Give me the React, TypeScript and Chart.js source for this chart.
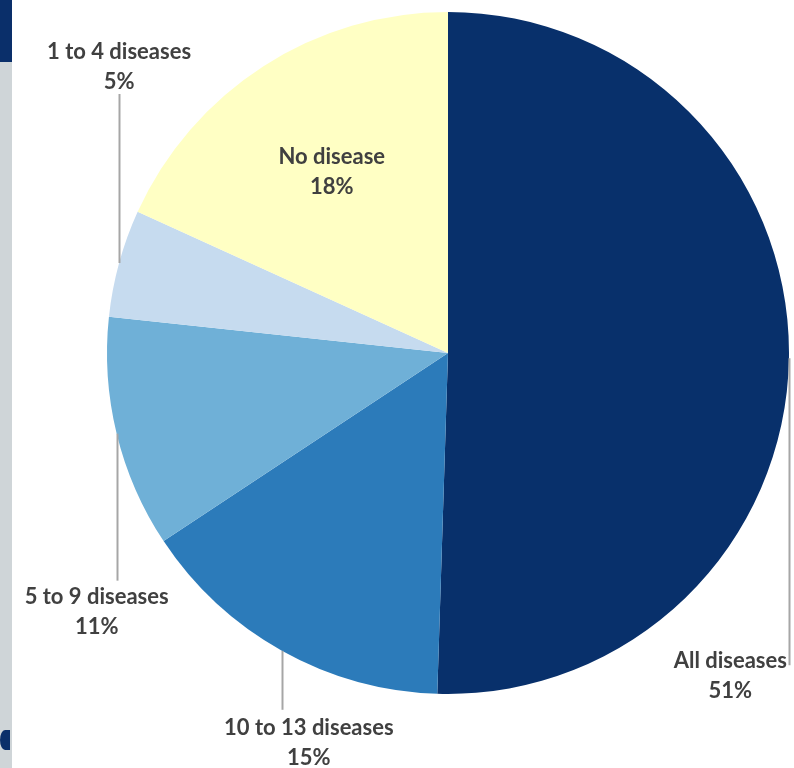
import React, { useEffect, useRef } from "react";
import { Chart, registerables } from "chart.js";

Chart.register(...registerables);

const categories = ["All diseases", "10 to 13 diseases", "5 to 9 diseases", "1 to 4 diseases", "No disease"];
const shares = [50.5, 15.2, 11.0, 5.1, 18.2];
const percentLabels = ["51%", "15%", "11%", "5%", "18%"];
const sliceColors = ["#08306b", "#2c7bba", "#6fb0d7", "#c6dbef", "#ffffc4"];

// label placement: leader length (px, +down / -up), text x shift, text y shift from leader end, inside fraction
type Placement = { leader: number; dx: number; dy: number; inside?: number; align?: "center" | "leftOfLine" };
const placements: Placement[] = [
  { leader: 307, dx: -2, dy: -4, align: "leftOfLine" },
  { leader: 59, dx: 27, dy: 18 },
  { leader: 147, dx: -20, dy: 16 },
  { leader: -169, dx: 0, dy: -42 },
  { leader: 0, dx: 0, dy: 0, inside: 0.63 },
];

const FONT = "bold 22px Lato, 'Open Sans', sans-serif";
const TEXT_COLOR = "#404040";
const LINE_H = 30;

const labelPlugin = {
  id: "pieLabels",
  afterDatasetsDraw(chart: any) {
    const ctx = chart.ctx as CanvasRenderingContext2D;
    const meta = chart.getDatasetMeta(0);
    ctx.save();
    ctx.font = FONT;
    ctx.fillStyle = TEXT_COLOR;
    ctx.textBaseline = "middle";
    meta.data.forEach((arc: any, i: number) => {
      const p = arc.getProps(["x", "y", "startAngle", "endAngle", "outerRadius"], true);
      const mid = (p.startAngle + p.endAngle) / 2;
      const pl = placements[i];
      const lines = [categories[i], percentLabels[i]];
      if (pl.inside) {
        const cx = p.x + Math.cos(mid) * p.outerRadius * pl.inside;
        const cy = p.y + Math.sin(mid) * p.outerRadius * pl.inside;
        ctx.textAlign = "center";
        ctx.fillText(lines[0], cx, cy - LINE_H / 2);
        ctx.fillText(lines[1], cx, cy + LINE_H / 2);
        return;
      }
      const ex = p.x + Math.cos(mid) * p.outerRadius;
      const ey = p.y + Math.sin(mid) * p.outerRadius;
      const endY = ey + pl.leader;
      ctx.strokeStyle = "#a6a6a6";
      ctx.lineWidth = 2;
      ctx.beginPath();
      ctx.moveTo(Math.round(ex) + 0.5, ey);
      ctx.lineTo(Math.round(ex) + 0.5, endY);
      ctx.stroke();
      let tx = ex + pl.dx;
      if (pl.align === "leftOfLine") {
        const w = Math.max(...lines.map((l) => ctx.measureText(l).width));
        tx = ex + pl.dx - w / 2;
      }
      ctx.textAlign = "center";
      const ty = endY + pl.dy;
      ctx.fillText(lines[0], tx, ty);
      ctx.fillText(lines[1], tx, ty + LINE_H);
    });
    ctx.restore();
  },
};

export default function App() {
  const ref = useRef<HTMLCanvasElement | null>(null);
  useEffect(() => {
    if (!ref.current) return;
    const chart = new Chart(ref.current, {
      type: "pie",
      data: {
        labels: categories,
        datasets: [
          {
            data: shares,
            backgroundColor: sliceColors,
            borderWidth: 0,
          },
        ],
      },
      options: {
        responsive: false,
        animation: false,
        layout: { padding: { left: 107, right: 5, top: 12, bottom: 74 } },
        plugins: {
          legend: { display: false },
          tooltip: { enabled: false },
        },
      },
      plugins: [labelPlugin],
    });
    return () => chart.destroy();
  }, []);
  return (
    <div style={{ position: "fixed", left: 0, top: 0, width: 794, height: 768, background: "#ffffff", overflow: "hidden" }}>
      <div style={{ position: "absolute", left: 0, top: 0, width: 12, height: 768, background: "#cfd5d8" }} />
      <div style={{ position: "absolute", left: 0, top: 0, width: 12, height: 62, background: "#0a2f6a" }} />
      <div style={{ position: "absolute", left: 0, top: 730, width: 10, height: 20, background: "#0a2f6a", borderRadius: "50% 0 0 50%" }} />
      <canvas ref={ref} width={794} height={768} style={{ position: "absolute", left: 0, top: 0 }} />
    </div>
  );
}
